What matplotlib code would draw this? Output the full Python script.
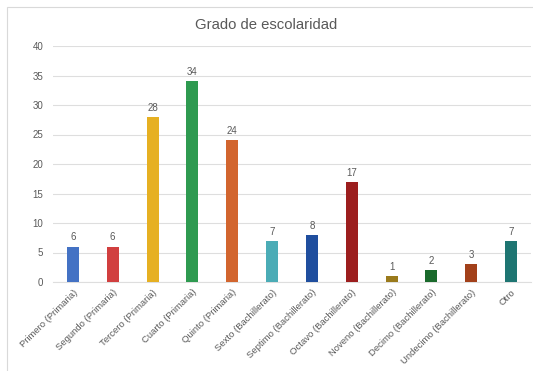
import matplotlib.pyplot as plt
from matplotlib.patches import Rectangle

plt.rcParams['font.family'] = ['Liberation Sans', 'DejaVu Sans']

categorias = [
    "Primero (Primaria)", "Segundo (Primaria)", "Tercero (Primaria)",
    "Cuarto (Primaria)", "Quinto (Primaria)", "Sexto (Bachillerato)",
    "Septimo (Bachillerato)", "Octavo (Bachillerato)", "Noveno (Bachillerato)",
    "Decimo (Bachillerato)", "Undecimo (Bachillerato)", "Otro",
]
valores = [6, 6, 28, 34, 24, 7, 8, 17, 1, 2, 3, 7]
colores = [
    "#4472c4", "#d13f3f", "#e6b022", "#2e9a50", "#d2652e", "#4bacb6",
    "#1f4e9e", "#9c1e1e", "#9a7a1c", "#1a6a2c", "#a2401a", "#1e7572",
]
yticks = [0, 5, 10, 15, 20, 25, 30, 35, 40]

gris = "#595959"

fig = plt.figure(figsize=(5.33, 3.71), dpi=100)
fig.patches.append(Rectangle((7 / 533, -0.05), 1.1, 1 - 7 / 371 + 0.05,
                             transform=fig.transFigure, fill=False,
                             edgecolor="#d9d9d9", linewidth=0.8))

ax = fig.add_axes([53 / 533, 1 - 282 / 371, 478 / 533, 236 / 371])
x = range(len(categorias))
ax.bar(x, valores, width=0.3, color=colores, zorder=3)

for xi, v in zip(x, valores):
    ax.text(xi, v + 0.7, str(v), ha="center", va="bottom", fontsize=7, color=gris)

ax.set_xlim(-0.5, len(categorias) - 0.5)
ax.set_ylim(0, 40)
ax.set_yticks(yticks)
ax.yaxis.grid(True, color="#dedede", linewidth=0.8, zorder=0)
ax.tick_params(axis="y", length=0, labelsize=7, labelcolor=gris, pad=7)
ax.tick_params(axis="x", length=0, labelsize=6.8, labelcolor=gris, pad=4)
ax.set_xticks(list(x))
ax.set_xticklabels(categorias, rotation=45, ha="right", rotation_mode="anchor")
for s in ["top", "right", "left"]:
    ax.spines[s].set_visible(False)
ax.spines["bottom"].set_color("#dedede")

fig.text(0.5, 1 - 25 / 371, "Grado de escolaridad", ha="center", va="center",
         fontsize=10.7, color=gris)

fig.savefig("out.png", dpi=100)
